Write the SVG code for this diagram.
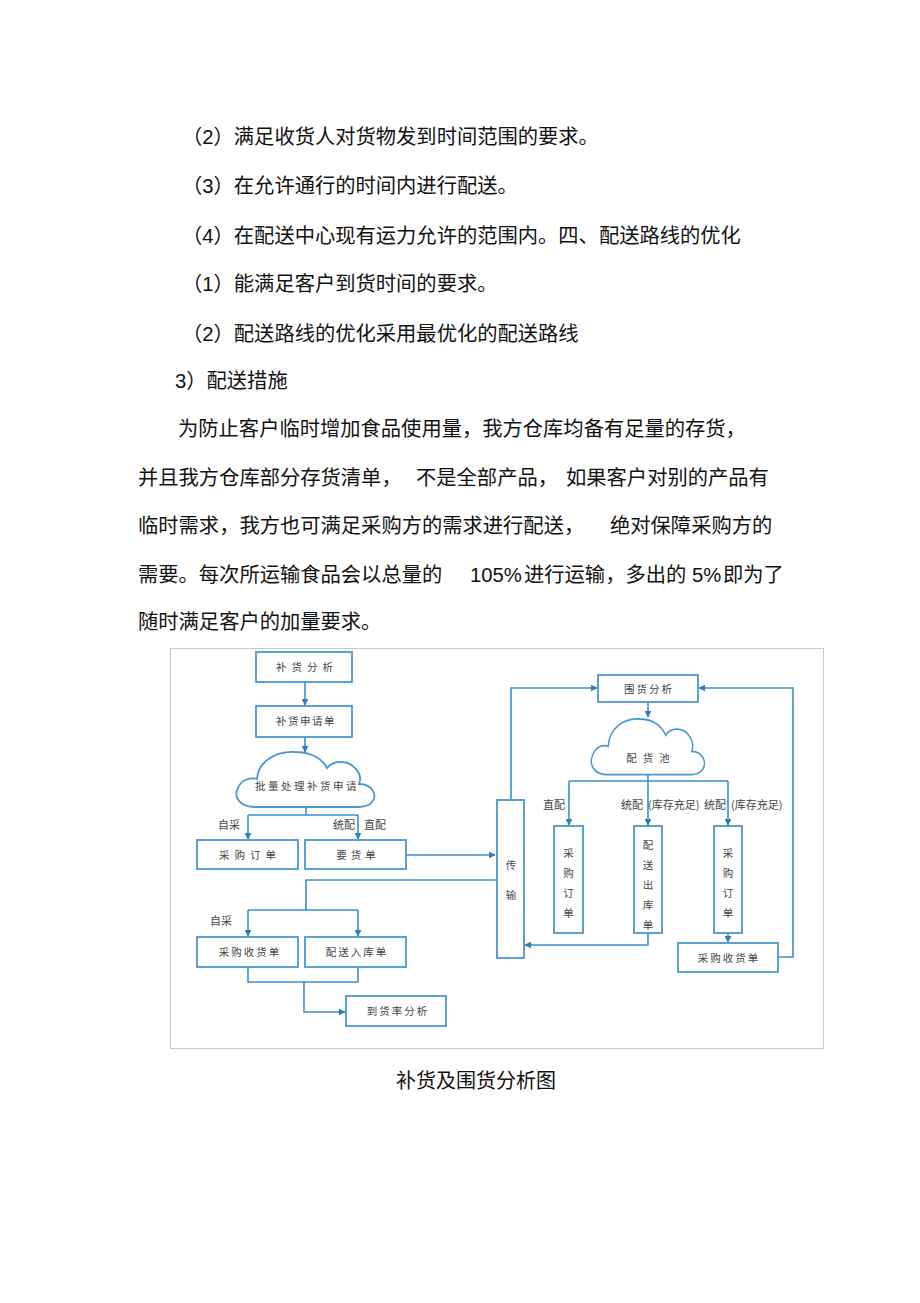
<svg xmlns="http://www.w3.org/2000/svg" width="920" height="1303" viewBox="0 0 920 1303">
<defs>
<style>
.body{font-family:"Liberation Sans","Noto Sans CJK SC",sans-serif;font-size:20.3px;fill:#111;}
.cap{font-family:"Liberation Serif","Noto Sans CJK SC",serif;font-size:20px;fill:#111;}
.box{fill:#fff;stroke:#4a98cc;stroke-width:1.8;}
.cloud{fill:#fff;stroke:#4a98cc;stroke-width:1.8;}
.lbl{font-family:"Noto Sans CJK SC",sans-serif;font-size:10.5px;fill:#444;text-anchor:middle;}
.sm{font-family:"Noto Sans CJK SC",sans-serif;font-size:11px;fill:#444;}
.conn{fill:none;stroke:#3d8fc8;stroke-width:1.6;}
</style>
<marker id="ah" viewBox="0 0 10 10" refX="9" refY="5" markerWidth="7" markerHeight="7" markerUnits="userSpaceOnUse" orient="auto">
<path d="M0,0 L10,5 L0,10 Z" fill="#2e7fb8"/>
</marker>
<path id="cloudShape" d="M19,56 C4,56 -3,46 2,37 C5,29 14,26 21,28 C22,11 39,0 59,1 C74,1 86,7 91,17 C97,9 112,9 119,17 C124,22 125,28 123,33 C136,33 142,44 136,51 C133,55 128,56 122,56 Z"/>
</defs>
<rect width="920" height="1303" fill="#fff"/>

<g id="text-body">
<text class="body" x="182" y="144">（2）满足收货人对货物发到时间范围的要求。</text>
<text class="body" x="182" y="193">（3）在允许通行的时间内进行配送。</text>
<text class="body" x="182" y="243">（4）在配送中心现有运力允许的范围内。四、配送路线的优化</text>
<text class="body" x="182" y="291">（1）能满足客户到货时间的要求。</text>
<text class="body" x="182" y="341">（2）配送路线的优化采用最优化的配送路线</text>
<text class="body" x="175" y="388">3）配送措施</text>
<text class="body" x="178" y="436">为防止客户临时增加食品使用量，我方仓库均备有足量的存货，</text>
<text class="body" y="485"><tspan x="138">并且我方仓库部分存货清单，</tspan><tspan x="416">不是全部产品，</tspan><tspan x="566">如果客户对别的产品有</tspan></text>
<text class="body" y="533"><tspan x="138">临时需求，我方也可满足采购方的需求进行配送，</tspan><tspan x="610">绝对保障采购方的</tspan></text>
<text class="body" x="138" y="582">需要。每次所运输食品会以总量的</text>
<text class="body" x="470" y="582">105%</text>
<text class="body" x="524" y="582">进行运输，多出的</text>
<text class="body" x="692" y="582">5%</text>
<text class="body" x="723" y="582">即为了</text>
<text class="body" x="138" y="629">随时满足客户的加量要求。</text>
<text class="cap" x="476" y="1088" text-anchor="middle">补货及围货分析图</text>
</g>

<rect x="170.5" y="648.5" width="653" height="400" fill="none" stroke="#c9c9c9" stroke-width="1"/>

<g id="connectors">
<path class="conn" d="M305,682 V705" marker-end="url(#ah)"/>
<path class="conn" d="M305,737 V752" marker-end="url(#ah)"/>
<path class="conn" d="M306,807 V815 M248,815 H358"/>
<path class="conn" d="M248,815 V839" marker-end="url(#ah)"/>
<path class="conn" d="M358,815 V839" marker-end="url(#ah)"/>
<path class="conn" d="M406,855 H495" marker-end="url(#ah)"/>
<path class="conn" d="M497,880 H306 V910 M248,910 H358"/>
<path class="conn" d="M248,910 V936" marker-end="url(#ah)"/>
<path class="conn" d="M358,910 V936" marker-end="url(#ah)"/>
<path class="conn" d="M248,967 V982 H358 V967"/>
<path class="conn" d="M304,982 V1012 H345" marker-end="url(#ah)"/>
<path class="conn" d="M511,800 V688 H597" marker-end="url(#ah)"/>
<path class="conn" d="M648,702 V717" marker-end="url(#ah)"/>
<path class="conn" d="M648,775 V781 M569,781 H728"/>
<path class="conn" d="M569,781 V825" marker-end="url(#ah)"/>
<path class="conn" d="M648,781 V825" marker-end="url(#ah)"/>
<path class="conn" d="M728,781 V825" marker-end="url(#ah)"/>
<path class="conn" d="M648,933 V945 H525" marker-end="url(#ah)"/>
<path class="conn" d="M728,933 V942" marker-end="url(#ah)"/>
<path class="conn" d="M778,957 H793 V688 H699" marker-end="url(#ah)"/>
</g>

<g id="edge-labels">
<text class="sm" x="218" y="829">自采</text>
<text class="sm" x="333" y="829">统配</text>
<text class="sm" x="364" y="829">直配</text>
<text class="sm" x="210" y="925">自采</text>
<text class="sm" x="543" y="809">直配</text>
<text class="sm" x="621" y="809">统配</text>
<text class="sm" x="648" y="809">(库存充足)</text>
<text class="sm" x="704" y="809">统配</text>
<text class="sm" x="731" y="809">(库存充足)</text>
</g>

<g id="n-buhuofenxi"><rect class="box" x="256" y="652" width="96" height="30"/><text class="lbl" x="307" y="671" letter-spacing="5">补货分析</text></g>
<g id="n-buhuoshenqingdan"><rect class="box" x="256" y="706" width="96" height="31"/><text class="lbl" x="306" y="725" letter-spacing="1.5">补货申请单</text></g>
<g id="n-piliang"><use href="#cloudShape" class="cloud" transform="translate(236,751)"/><text class="lbl" x="307" y="790" letter-spacing="2.5">批量处理补货申请</text></g>
<g id="n-caigoudingdan"><rect class="box" x="197" y="840" width="101" height="29"/><text class="lbl" x="250" y="858.5" letter-spacing="5">采购订单</text></g>
<g id="n-yaohuodan"><rect class="box" x="305" y="840" width="101" height="29"/><text class="lbl" x="358" y="858.5" letter-spacing="4">要货单</text></g>
<g id="n-chuanshu"><rect class="box" x="497" y="800" width="27" height="158"/><text class="lbl" x="511" y="869">传</text><text class="lbl" x="511" y="899">输</text></g>
<g id="n-caigoushouhuodan"><rect class="box" x="197" y="937" width="101" height="30"/><text class="lbl" x="250" y="956" letter-spacing="2">采购收货单</text></g>
<g id="n-peisongrukudan"><rect class="box" x="305" y="937" width="101" height="30"/><text class="lbl" x="357" y="956" letter-spacing="2">配送入库单</text></g>
<g id="n-daohuolv"><rect class="box" x="346" y="996" width="100" height="30"/><text class="lbl" x="398" y="1015" letter-spacing="2">到货率分析</text></g>
<g id="n-weihuofenxi"><rect class="box" x="598" y="675" width="100" height="27"/><text class="lbl" x="649" y="692.5" letter-spacing="2">围货分析</text></g>
<g id="n-peihuochi"><use href="#cloudShape" class="cloud" transform="translate(591,718) scale(0.82,1.01)" style="vector-effect:non-scaling-stroke"/><text class="lbl" x="651" y="762" letter-spacing="6">配货池</text></g>
<g id="n-caigoudingdan2"><rect class="box" x="554" y="826" width="29" height="107"/><text class="lbl" x="568.5" y="857">采</text><text class="lbl" x="568.5" y="877">购</text><text class="lbl" x="568.5" y="897">订</text><text class="lbl" x="568.5" y="917">单</text></g>
<g id="n-peisongchukudan"><rect class="box" x="634" y="826" width="28" height="107"/><text class="lbl" x="648" y="849">配</text><text class="lbl" x="648" y="869">送</text><text class="lbl" x="648" y="889">出</text><text class="lbl" x="648" y="909">库</text><text class="lbl" x="648" y="929">单</text></g>
<g id="n-caigoudingdan3"><rect class="box" x="714" y="826" width="28" height="107"/><text class="lbl" x="728" y="857">采</text><text class="lbl" x="728" y="877">购</text><text class="lbl" x="728" y="897">订</text><text class="lbl" x="728" y="917">单</text></g>
<g id="n-caigoushouhuodan2"><rect class="box" x="678" y="943" width="100" height="29"/><text class="lbl" x="729" y="961.5" letter-spacing="2">采购收货单</text></g>
</svg>
